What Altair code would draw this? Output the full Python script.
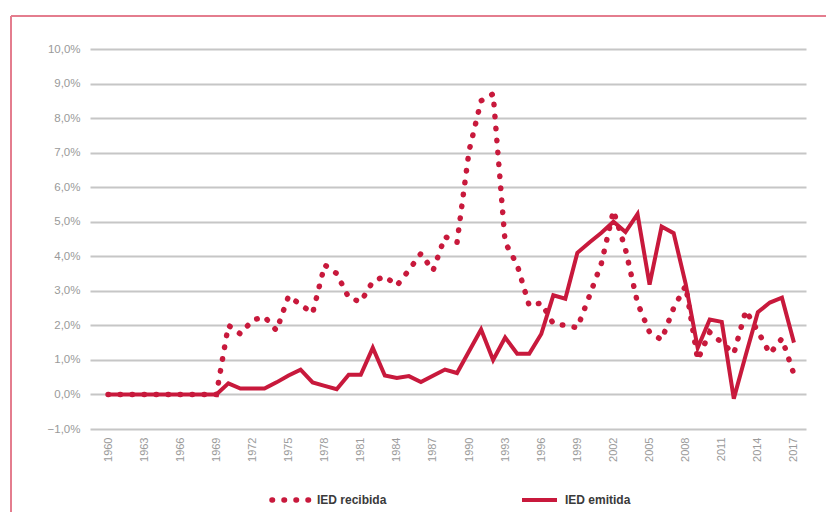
import altair as alt
import pandas as pd

# ---------------- data ----------------
years = list(range(1960, 2018))

ied_recibida = [
    0, 0, 0, 0, 0, 0, 0, 0, 0, 0,            # 1960-1969
    2.00, 1.75, 2.15, 2.25, 1.85, 2.85, 2.60, 2.35, 3.75, 3.50,   # 1970-1979
    2.80, 2.68, 3.27, 3.42, 3.15, 3.60, 4.08, 3.58, 4.57, 4.40,   # 1980-1989
    7.05, 8.50, 8.70, 4.40, 3.75, 2.57, 2.65, 2.05, 2.00, 1.93,   # 1990-1999
    2.85, 3.80, 5.32, 4.20, 2.65, 1.80, 1.58, 2.50, 3.15, 1.00,   # 2000-2009
    1.80, 1.50, 1.18, 2.43, 1.83, 1.18, 1.62, 0.58,               # 2010-2017
]

ied_emitida = [
    0, 0, 0, 0, 0, 0, 0, 0, 0, 0,            # 1960-1969
    0.32, 0.17, 0.17, 0.17, 0.35, 0.55, 0.72, 0.35, 0.25, 0.15,   # 1970-1979
    0.57, 0.57, 1.35, 0.55, 0.48, 0.53, 0.36, 0.54, 0.72, 0.62,   # 1980-1989
    1.25, 1.88, 1.00, 1.65, 1.18, 1.18, 1.75, 2.87, 2.77, 4.10,   # 1990-1999
    4.40, 4.68, 5.00, 4.70, 5.22, 3.18, 4.86, 4.67, 3.20, 1.35,   # 2000-2009
    2.17, 2.10, -0.12, 1.15, 2.38, 2.66, 2.80, 1.50,              # 2010-2017
]

series_names = ["IED recibida", "IED emitida"]
y_ticks = [-1, 0, 1, 2, 3, 4, 5, 6, 7, 8, 9, 10]
x_ticks = list(range(1960, 2018, 3))

df = pd.DataFrame({"year": years, "recibida": ied_recibida, "emitida": ied_emitida})
deco = pd.DataFrame({"a": [0]})

RED = "#C8193C"
FRAME = "#E47D8E"
LABEL_FONT = "Liberation Sans"
LEGEND_FONT = "Liberation Sans"

x_enc = alt.X(
    "year:Q",
    scale=alt.Scale(domain=[1958.5, 2018], nice=False, zero=False),
    axis=alt.Axis(
        values=x_ticks, format="d", labelAngle=-90, labelAlign="right",
        labelBaseline="middle", labelPadding=8, ticks=False, domain=False,
        grid=False, labelColor="#9a9a9a", labelFontSize=11, labelFont=LABEL_FONT,
        labelFlush=False, labelOverlap=False, title=None,
    ),
)

y_axis = alt.Axis(
    values=y_ticks,
    labelExpr="replace(format(datum.value, '.1f'), '.', ',') + '%'",
    grid=True, gridColor="#c6c6c6", gridWidth=2, ticks=False, domain=False,
    labelPadding=10, labelColor="#9a9a9a", labelFontSize=11.5, labelFont=LABEL_FONT,
    title=None,
)
y_scale = alt.Scale(domain=[-1, 10], nice=False, zero=False)

recibida = alt.Chart(df).mark_line(
    color=RED, strokeWidth=5.5, strokeDash=[0.5, 11.5], strokeCap="round"
).encode(x=x_enc, y=alt.Y("recibida:Q", scale=y_scale, axis=y_axis))

emitida = alt.Chart(df).mark_line(
    color=RED, strokeWidth=4
).encode(x=x_enc, y=alt.Y("emitida:Q", scale=y_scale, axis=y_axis))

# ---------------- frame (decoration) ----------------
frame_top = alt.Chart(deco).mark_rule(color=FRAME, strokeWidth=2).encode(
    x=alt.value(-79), x2=alt.value(760), y=alt.value(-33)
)
frame_left = alt.Chart(deco).mark_rule(color=FRAME, strokeWidth=2).encode(
    x=alt.value(-79), y=alt.value(-33), y2=alt.value(480)
)

# ---------------- legend ----------------
leg_dots = alt.Chart(deco).mark_rule(
    color=RED, strokeWidth=5.5, strokeDash=[0.5, 11.5], strokeCap="round"
).encode(x=alt.value(182), x2=alt.value(220), y=alt.value(451))
leg_line = alt.Chart(deco).mark_rule(color=RED, strokeWidth=4).encode(
    x=alt.value(432), x2=alt.value(467), y=alt.value(451)
)
leg_txt1 = alt.Chart(deco).mark_text(
    align="left", baseline="middle", font=LEGEND_FONT, fontSize=12,
    fontWeight="bold", color="#3a3a3a"
).encode(x=alt.value(227), y=alt.value(451), text=alt.value(series_names[0]))
leg_txt2 = alt.Chart(deco).mark_text(
    align="left", baseline="middle", font=LEGEND_FONT, fontSize=12,
    fontWeight="bold", color="#3a3a3a"
).encode(x=alt.value(475), y=alt.value(451), text=alt.value(series_names[1]))

chart = alt.layer(
    recibida, emitida, frame_top, frame_left, leg_dots, leg_line, leg_txt1, leg_txt2
).properties(
    width=716, height=380,
    autosize=alt.AutoSizeParams(type="none"),
    padding={"left": 82, "top": 41, "right": 20, "bottom": 83},
    background="white",
).configure_view(stroke=None)

chart.save("out.html", embed_options={"renderer": "svg", "actions": False})
